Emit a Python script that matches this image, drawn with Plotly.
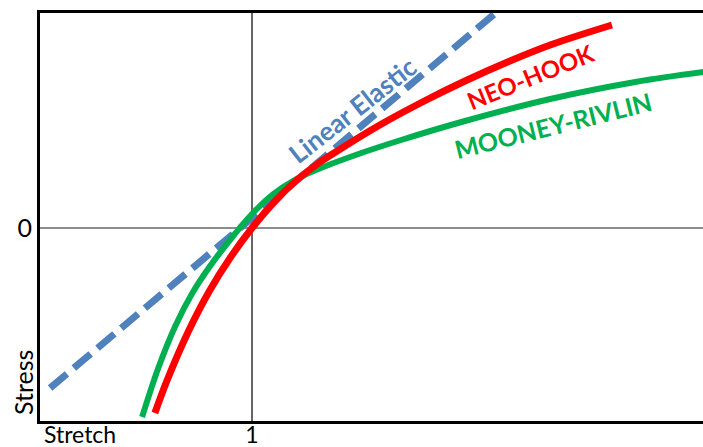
import plotly.graph_objects as go

# Data (stretch, stress in arbitrary units)
linear_stretch = [0.526, 1.594]
linear_stress = [-0.80, 1.115]

neo_stretch = [0.772, 0.80, 0.85, 0.90, 0.95, 1.00, 1.05, 1.10, 1.15, 1.20,
               1.30, 1.40, 1.50, 1.60, 1.70, 1.845]
neo_stress = [-0.925, -0.765, -0.52, -0.315, -0.145, 0.0, 0.125, 0.23, 0.315, 0.385,
              0.515, 0.63, 0.735, 0.83, 0.915, 1.015]

mr_stretch = [0.742, 0.78, 0.82, 0.86, 0.90, 0.95, 1.00, 1.05, 1.10, 1.15,
              1.25, 1.35, 1.50, 1.70, 1.90, 2.06]
mr_stress = [-0.945, -0.70, -0.49, -0.325, -0.195, -0.055, 0.07, 0.17, 0.24, 0.29,
             0.37, 0.44, 0.535, 0.645, 0.73, 0.78]

x_tick_vals = [1]
x_tick_text = ["1"]
y_tick_vals = [0]
y_tick_text = ["0"]

BLUE = "#4F81BD"
RED = "#FF0000"
GREEN = "#00B050"
FONT = "Lato"

fig = go.Figure()
fig.add_trace(go.Scatter(x=linear_stretch, y=linear_stress, mode="lines",
                         line=dict(color=BLUE, width=7, dash="22px,9px"),
                         name="Linear Elastic"))
fig.add_trace(go.Scatter(x=mr_stretch, y=mr_stress, mode="lines",
                         line=dict(color=GREEN, width=6, shape="spline", smoothing=1.0),
                         name="Mooney-Rivlin"))
fig.add_trace(go.Scatter(x=neo_stretch, y=neo_stress, mode="lines",
                         line=dict(color=RED, width=7, shape="spline", smoothing=1.0),
                         name="Neo-Hook"))

fig.add_shape(type="line", xref="x", yref="paper", x0=1, x1=1, y0=0, y1=1,
              line=dict(color="black", width=1.2), layer="below")

fig.add_annotation(x=1.235, y=0.59, xref="x", yref="y", text="<b>Linear Elastic</b>",
                   showarrow=False, textangle=-38,
                   font=dict(family=FONT, size=26, color=BLUE))
fig.add_annotation(x=1.653, y=0.76, xref="x", yref="y", text="<b>NEO-HOOK</b>",
                   showarrow=False, textangle=-22,
                   font=dict(family=FONT, size=24, color=RED))
fig.add_annotation(x=1.707, y=0.515, xref="x", yref="y", text="<b>MOONEY-RIVLIN</b>",
                   showarrow=False, textangle=-14,
                   font=dict(family=FONT, size=25, color=GREEN))
fig.add_annotation(x=0.003, y=-0.031, xref="paper", yref="paper", text="Stretch",
                   showarrow=False, xanchor="left", yanchor="middle",
                   font=dict(family=FONT, size=23, color="black"))
fig.add_annotation(x=-0.0256, y=0.093, xref="paper", yref="paper", text="Stress",
                   showarrow=False, textangle=-90, xanchor="center", yanchor="middle",
                   font=dict(family=FONT, size=25, color="black"))

fig.update_layout(
    width=703, height=447,
    margin=dict(l=40, r=0, t=13, b=26),
    paper_bgcolor="white", plot_bgcolor="white",
    showlegend=False,
    font=dict(family=FONT, size=25, color="black"),
    xaxis=dict(range=[0.5023, 2.0587], showgrid=False, zeroline=False,
               showline=True, linecolor="black", linewidth=3, mirror=True,
               tickvals=x_tick_vals, ticktext=x_tick_text, ticks="",
               automargin=False, ticklabelstandoff=-9,
               tickfont=dict(family=FONT, size=23, color="black")),
    yaxis=dict(range=[-0.965, 1.075], showgrid=False, zeroline=True,
               zerolinecolor="#8c8c8c", zerolinewidth=1.5,
               showline=True, linecolor="black", linewidth=3, mirror=False,
               tickvals=y_tick_vals, ticktext=y_tick_text, ticks="",
               automargin=False,
               tickfont=dict(family=FONT, size=25, color="black")),
)

fig.write_html("out.html", config={"displayModeBar": False},
               post_script="document.body.style.margin='0';document.body.style.overflow='hidden';")
